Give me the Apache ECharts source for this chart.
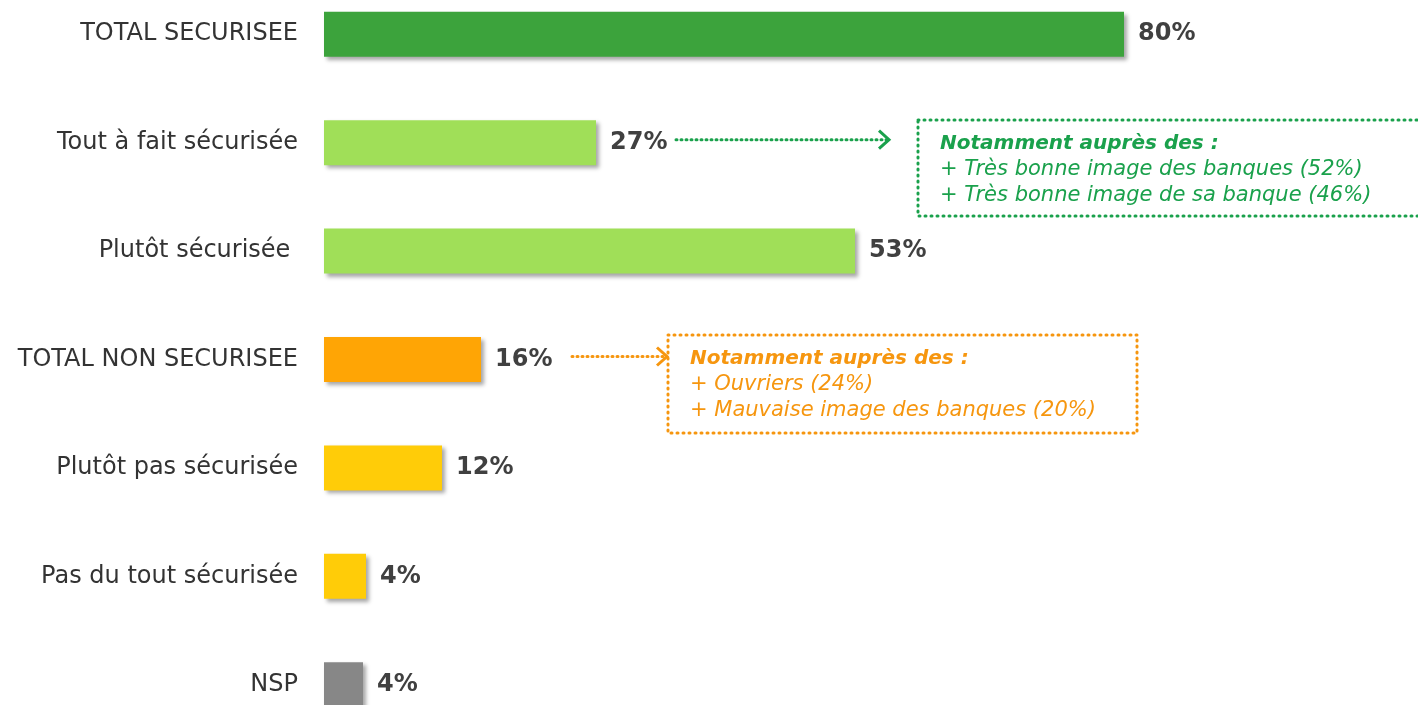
<!DOCTYPE html>
<html>
<head>
<meta charset="utf-8">
<script src="https://cdn.jsdelivr.net/npm/echarts@6/dist/echarts.min.js"></script>
<style>
  html, body { margin: 0; padding: 0; background: #fff; }
  #chart { width: 1418px; height: 705px; }
</style>
</head>
<body>
<div id="chart"></div>
<script>
  // categories top -> bottom
  var categories = ['TOTAL SECURISEE', 'Tout à fait sécurisée', 'Plutôt sécurisée ', 'TOTAL NON SECURISEE',
    'Plutôt pas sécurisée', 'Pas du tout sécurisée', 'NSP'];
  var values = [80, 27.2, 53.1, 15.7, 11.8, 4.2, 3.9];
  var barColors = ['#3ca33c', '#a0df58', '#a0df58', '#ffa505', '#ffcc08', '#ffcc08', '#878787'];

  var greenNote = ['Notamment auprès des :', '+ Très bonne image des banques (52%)', '+ Très bonne image de sa banque (46%)'];
  var orangeNote = ['Notamment auprès des :', '+ Ouvriers (24%)', '+ Mauvaise image des banques (20%)'];

  var chart = echarts.init(document.getElementById('chart'));

  chart.setOption({
    animation: false,
    grid: { left: 324, right: 0, top: -20, height: 759, outerBoundsMode: 'none' },
    xAxis: { type: 'value', min: 0, max: 109.4, show: false },
    yAxis: {
      type: 'category',
      inverse: true,
      data: categories,
      axisLine: { show: false },
      axisTick: { show: false },
      axisLabel: { margin: 26, fontSize: 24, color: '#333', fontFamily: 'DejaVu Sans' }
    },
    series: [{
      type: 'bar',
      barWidth: 45,
      data: values.map(function (v, i) {
        return { value: v, itemStyle: { color: barColors[i] } };
      }),
      itemStyle: {
        shadowBlur: 4,
        shadowOffsetX: 3,
        shadowOffsetY: 3,
        shadowColor: 'rgba(0,0,0,0.35)'
      },
      label: {
        show: true,
        position: 'right',
        distance: 14,
        fontSize: 24,
        fontWeight: 'bold',
        color: '#404040',
        fontFamily: 'DejaVu Sans',
        formatter: function (p) { return Math.round(p.value) + '%'; }
      }
    }]
  });

  // annotation boxes with dotted arrows
  function note(lines, color, idx, arrowStart, arrowEnd, box) {
    var y = chart.convertToPixel({ yAxisIndex: 0 }, idx);
    var els = [];
    els.push({
      type: 'line',
      shape: { x1: arrowStart, y1: y - 3, x2: arrowEnd, y2: y - 3 },
      style: { stroke: color, lineWidth: 3, lineDash: [1, 4], lineCap: 'round' }
    });
    els.push({
      type: 'polyline',
      shape: { points: [[arrowEnd - 9, y - 12], [arrowEnd + 1, y - 3], [arrowEnd - 9, y + 6]] },
      style: { stroke: color, lineWidth: 3, fill: null }
    });
    els.push({
      type: 'rect',
      shape: { x: box.x, y: box.y, width: box.w, height: box.h },
      style: { stroke: color, lineWidth: 3, lineDash: [1, 5], lineCap: 'round', fill: null }
    });
    lines.forEach(function (t, k) {
      els.push({
        type: 'text',
        x: box.tx,
        y: box.y + 24 + k * 26,
        style: {
          text: t,
          fill: color,
          font: (k === 0 ? 'italic bold 20px ' : 'italic 21px ') + '"DejaVu Sans"',
          verticalAlign: 'middle'
        }
      });
    });
    return els;
  }

  chart.setOption({
    graphic: note(greenNote, '#1aa14c', 1, 676, 888, { x: 918, y: 120, w: 520, h: 96, tx: 940 })
      .concat(note(orangeNote, '#f6960f', 3, 572, 666, { x: 668, y: 335, w: 469, h: 98, tx: 690 }))
  });
</script>
</body>
</html>
